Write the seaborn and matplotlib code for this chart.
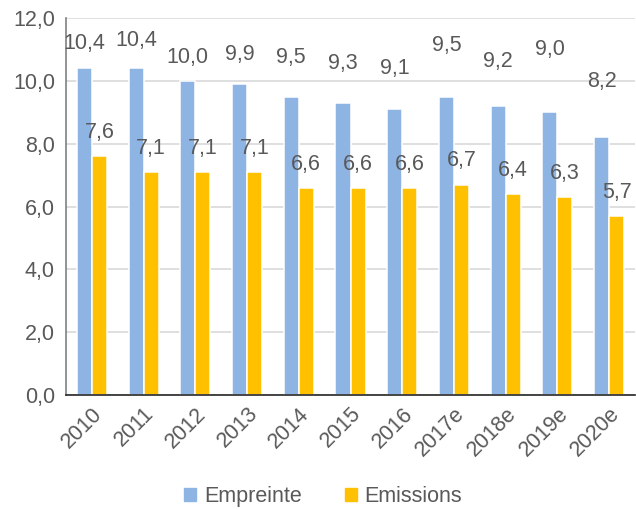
import numpy as np
import pandas as pd
import matplotlib
matplotlib.use("Agg")
import matplotlib.pyplot as plt
import seaborn as sns
from matplotlib.ticker import FuncFormatter, FixedLocator

# ---- data ---------------------------------------------------------------
years = ["2010", "2011", "2012", "2013", "2014", "2015", "2016",
         "2017e", "2018e", "2019e", "2020e"]
empreinte = [10.4, 10.4, 10.0, 9.9, 9.5, 9.3, 9.1, 9.5, 9.2, 9.0, 8.2]
emissions = [7.6, 7.1, 7.1, 7.1, 6.6, 6.6, 6.6, 6.7, 6.4, 6.3, 5.7]
series_names = ["Empreinte", "Emissions"]

# label lift above the blue bars (points), as placed in the original
blue_label_lift = [18, 20, 17, 21, 28, 28, 29, 37, 32, 45, 40]

BLUE = "#8EB4E3"
GOLD = "#FFC000"
TEXT = "#595959"
FS = 15.5

df = pd.DataFrame({
    "year": years * 2,
    "value": empreinte + emissions,
    "serie": [series_names[0]] * len(years) + [series_names[1]] * len(years),
})

sns.set_theme(style="white")
plt.rcParams["font.family"] = ["Liberation Sans", "DejaVu Sans"]

fig = plt.figure(figsize=(6.36, 5.09), dpi=100)
ax = fig.add_axes([66 / 636, 1 - 395 / 509, 569 / 636, 377 / 509])

sns.barplot(data=df, x="year", y="value", hue="serie", order=years,
            hue_order=series_names, palette=[BLUE, GOLD], width=0.58,
            saturation=1, edgecolor="white", linewidth=1.1, ax=ax)

ax.set_ylim(0, 12)
ax.set_xlim(-0.5, len(years) - 0.5)
ax.set_yticks(np.arange(0, 12.1, 2))
ax.yaxis.set_major_formatter(FuncFormatter(lambda v, p: f"{v:.1f}".replace(".", ",")))
ax.grid(axis="y", color="#D9D9D9", linewidth=1.2)
ax.set_axisbelow(True)

for s in ["top", "right"]:
    ax.spines[s].set_visible(False)
ax.spines["left"].set_color("#808080")
ax.spines["left"].set_linewidth(1.2)
ax.spines["bottom"].set_color("#262626")
ax.spines["bottom"].set_linewidth(1.2)

ax.tick_params(axis="y", length=0, labelsize=FS, labelcolor=TEXT, pad=8)
ax.tick_params(axis="x", which="major", length=0, labelsize=FS, labelcolor=TEXT, pad=6)
ax.xaxis.set_minor_locator(FixedLocator(np.arange(-0.5, len(years), 1)))
ax.tick_params(axis="x", which="minor", length=8, width=1.2, color="#262626", direction="out")
for lab in ax.get_xticklabels():
    lab.set_rotation(45)
    lab.set_ha("right")
    lab.set_rotation_mode("anchor")
ax.set_xlabel("")
ax.set_ylabel("")

# value labels
blue_bars, gold_bars = ax.containers[0], ax.containers[1]
for bar, v, lift in zip(blue_bars, empreinte, blue_label_lift):
    ax.annotate(f"{v:.1f}".replace(".", ","), (bar.get_x() + bar.get_width() / 2, v),
                xytext=(0, lift), textcoords="offset points", ha="center", va="center",
                fontsize=FS, color=TEXT)
for bar, v in zip(gold_bars, emissions):
    ax.annotate(f"{v:.1f}".replace(".", ","), (bar.get_x() + bar.get_width() / 2, v),
                xytext=(0, 17), textcoords="offset points", ha="center", va="center",
                fontsize=FS, color=TEXT)

ax.legend_.remove()
handles = [plt.Rectangle((0, 0), 1, 1, color=BLUE), plt.Rectangle((0, 0), 1, 1, color=GOLD)]
fig.legend(handles, series_names, loc="lower center", bbox_to_anchor=(0.508, -0.035),
           ncol=2, frameon=False, fontsize=FS, labelcolor=TEXT,
           handlelength=0.55, handleheight=0.55, handletextpad=0.35, columnspacing=2.0)

fig.savefig("out.png", dpi=100)
